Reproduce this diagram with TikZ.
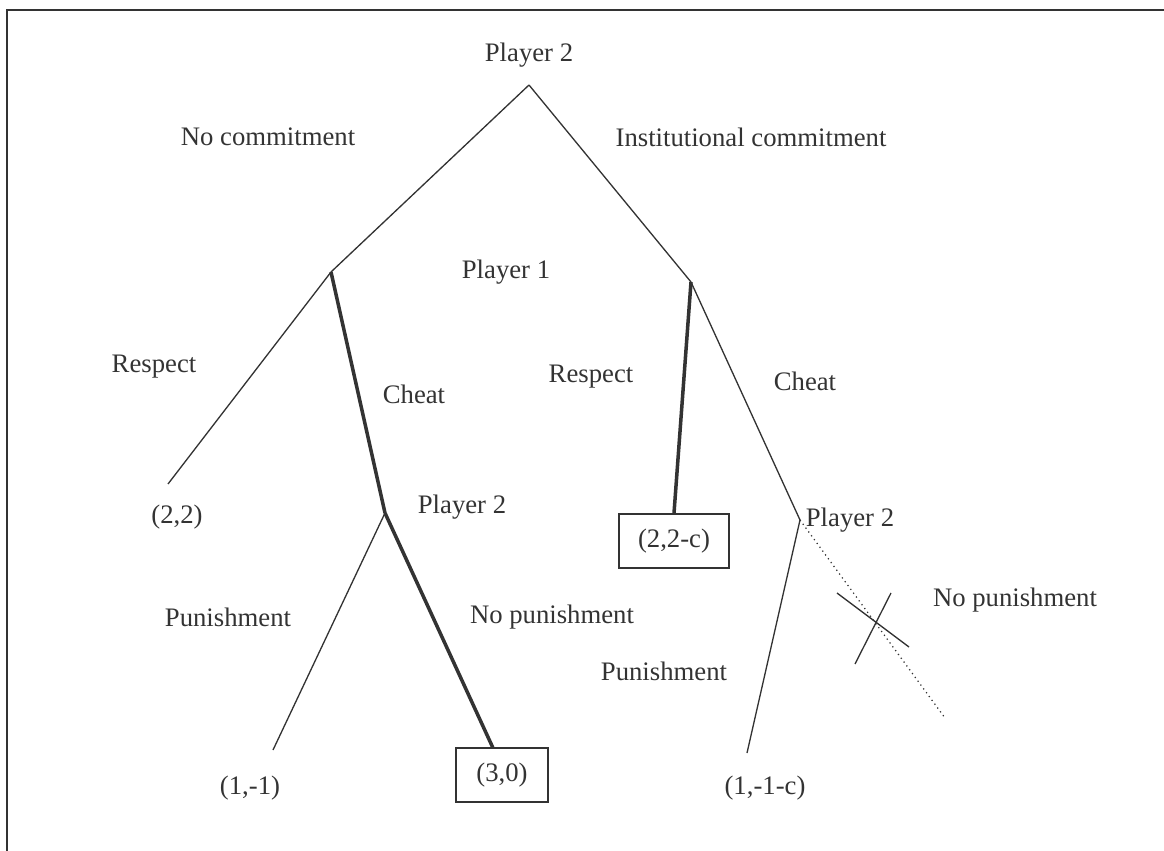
\documentclass[tikz,border=0pt]{standalone}
\usepackage{fontspec}
\setmainfont{Liberation Serif}
\definecolor{ink}{HTML}{333333}
\begin{document}
\begin{tikzpicture}[x=0.02cm,y=-0.02cm,
  lbl/.style={text=ink,font=\fontsize{15.2}{18}\selectfont,inner sep=0pt},
  thin/.style={draw=ink,line width=0.75pt},
  thick/.style={draw=ink,line width=2pt},
  box/.style={draw=ink,line width=0.9pt,minimum width=92*0.02cm,minimum height=54*0.02cm,inner sep=0pt,text=ink,font=\fontsize{15.2}{18}\selectfont},
  frame/.style={draw=ink,line width=1.3pt}]
\useasboundingbox (0,0) rectangle (1164,851);
% frame
\coordinate (f1) at (7,851);
\coordinate (f2) at (7,10);
\coordinate (f3) at (1164,10);
\draw[frame] (f1) -- (f2) -- (f3);
% tree nodes
\coordinate (root) at (529,85);
\coordinate (L1) at (331,272);
\coordinate (R1) at (691,282);
\coordinate (L2) at (385,513);
\coordinate (R2) at (800,520);
\coordinate (LL) at (168,484);
\coordinate (L2P) at (273,750);
\coordinate (R2P) at (747,753);
\coordinate (R2N) at (945,718);
\coordinate (b30top) at (493,748);
\node[box] (b30) at (502,775) {(3,0)};
\node[box,minimum width=110*0.02cm] (b22) at (674,541) {(2,2-c)};
% edges
\draw[thin] (root) -- (L1);
\draw[thin] (root) -- (R1);
\draw[thin] (L1) -- (LL);
\draw[thick] (L1) -- (L2);
\draw[thin] (L2) -- (L2P);
\draw[thick] (L2) -- (b30top);
\draw[thick] (R1) -- (b22.north);
\draw[thin] (R1) -- (R2);
\draw[thin] (R2) -- (R2P);
\draw[draw=ink,line width=0.7pt,dotted] (R2) -- (R2N);
% cross
\coordinate (x1) at (837,593);
\coordinate (x2) at (909,647);
\coordinate (x3) at (855,664);
\coordinate (x4) at (891,593);
\draw[thin] (x1) -- (x2);
\draw[thin] (x3) -- (x4);
% labels
\node[lbl] (t1) at (529,55) {Player 2};
\node[lbl] (t2) at (268,137) {No commitment};
\node[lbl] (t3) at (751,137) {Institutional commitment};
\node[lbl] (t4) at (506,272) {Player 1};
\node[lbl] (t5) at (154,367) {Respect};
\node[lbl] (t6) at (414,394) {Cheat};
\node[lbl] (t7) at (591,377) {Respect};
\node[lbl] (t8) at (805,381) {Cheat};
\node[lbl] (t9) at (177,517) {(2,2)};
\node[lbl] (t10) at (462,507) {Player 2};
\node[lbl] (t11) at (850,520) {Player 2};
\node[lbl] (t12) at (552,617) {No punishment};
\node[lbl] (t13) at (228,617) {Punishment};
\node[lbl] (t14) at (664,671) {Punishment};
\node[lbl] (t15) at (1015,600) {No punishment};
\node[lbl] (t16) at (250,788) {(1,-1)};
\node[lbl] (t17) at (765,788) {(1,-1-c)};
\end{tikzpicture}
\end{document}
